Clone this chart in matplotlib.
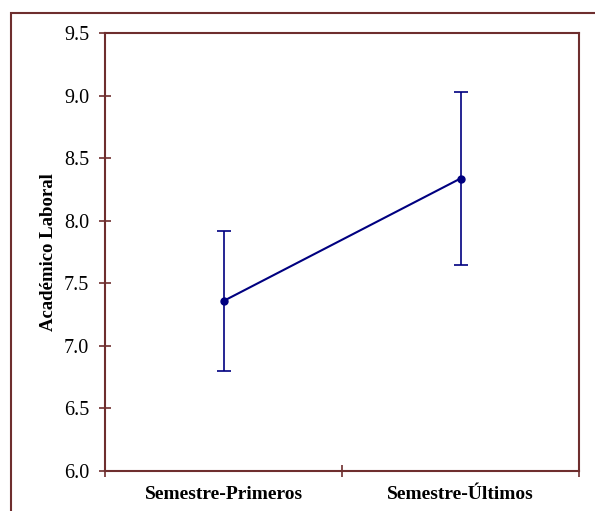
import matplotlib
matplotlib.use('Agg')
import matplotlib.pyplot as plt
from matplotlib.patches import Rectangle

# data
categories = ['Semestre-Primeros', 'Semestre-Últimos']
means = [7.36, 8.34]
err_low = [0.56, 0.69]
err_high = [0.56, 0.69]

frame_col = '#6e2e2e'
line_col = '#000080'

plt.rcParams['font.family'] = ['Liberation Serif', 'DejaVu Serif']

fig = plt.figure(figsize=(5.95, 5.11), dpi=100)
W, H = 595, 511

# outer frame, partly cut off on right/bottom
fig.patches.append(Rectangle((11 / W, -0.1), 1.2, 1 - 13 / H + 0.1,
                             transform=fig.transFigure, fill=False,
                             edgecolor=frame_col, linewidth=1.5))

ax = fig.add_axes([105 / W, 1 - 471 / H, (579 - 105) / W, (471 - 33.5) / H])

x = [0.5, 1.5]
ax.errorbar(x, means, yerr=[err_low, err_high], color=line_col, marker='o',
            markersize=5, linewidth=1.5, elinewidth=1.2, capsize=5, capthick=1.2)

ax.set_xlim(0, 2)
ax.set_ylim(6.0, 9.5)
ax.set_yticks([6.0, 6.5, 7.0, 7.5, 8.0, 8.5, 9.0, 9.5])
ax.set_yticklabels(['%.1f' % v for v in ax.get_yticks()], fontsize=14.5)

ax.set_xticks([0, 1, 2])
ax.set_xticklabels(['', '', ''])
ax.set_xticks(x, minor=True)
ax.set_xticklabels(categories, minor=True, fontsize=14, fontweight='bold')
ax.tick_params(axis='x', which='minor', length=0, pad=11)

ax.tick_params(axis='both', which='major', direction='inout', length=9,
               width=1.2, color=frame_col, pad=4)
ax.tick_params(axis='y', pad=7)

for s in ax.spines.values():
    s.set_color(frame_col)
    s.set_linewidth(1.5)

ax.set_ylabel('Académico Laboral', fontsize=13.5, fontweight='bold', labelpad=5)

fig.savefig('out.png', dpi=100)
